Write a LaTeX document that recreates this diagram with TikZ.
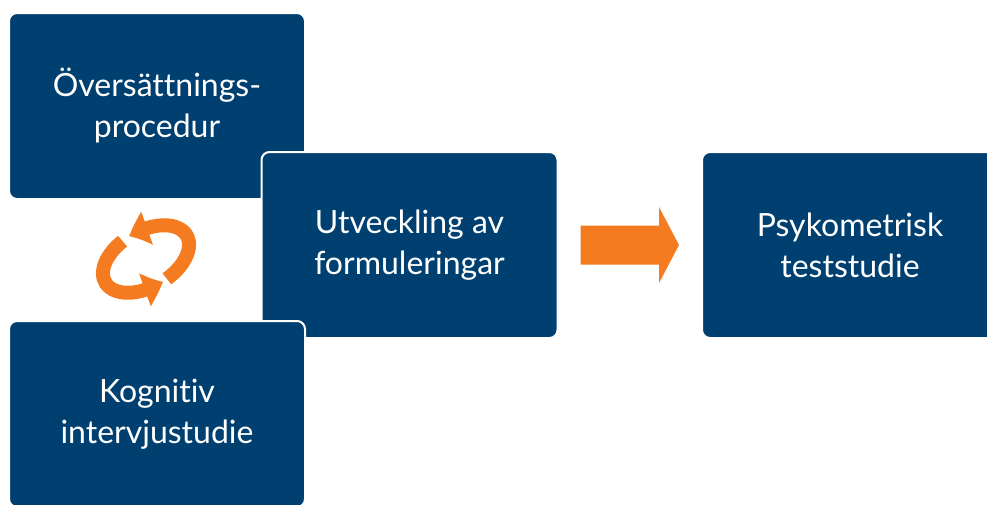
\documentclass[tikz,border=0pt]{standalone}
\usepackage{fontspec}
\setmainfont{Lato}[Ligatures=NoCommon]
\usetikzlibrary{calc,arrows.meta,bending}

\definecolor{boxblue}{RGB}{0,64,113}
\definecolor{pilorange}{RGB}{244,123,32}

\tikzset{
  stegbox/.style={rectangle, rounded corners=6pt, fill=boxblue, draw=white,
    line width=1.5pt, minimum width=222pt, minimum height=139.5pt,
    text=white, align=center, font=\fontsize{24}{30.75}\selectfont},
  cykelpil/.style={pilorange, line width=10.5pt,
    -{Triangle[bend, width=25pt, length=15pt]}}
}

\begin{document}
\begin{tikzpicture}[x=0.75pt,y=0.75pt,yscale=-1,xscale=1]

\useasboundingbox (0,0) rectangle (987,504);
\clip (0,0) rectangle (987,504);

%%%%%%%%%%%%%%%%%%%%%%%%%%%%%%%%%%%%%%%%%%%%%%%%%%%%%%%%%%%%%%%%%%%%%%%%

\node [stegbox] (overs) at (157, 106) {Översättnings-\\procedur};
\node [stegbox] (utv) at (409.5, 245) {Utveckling av\\formuleringar};
\node [stegbox] (kogn) at (157, 414) {Kognitiv\\intervjustudie};
\node [stegbox] (psyk) at (850, 245) {Psykometrisk\\teststudie};

%%%%%%%%%%%%%%%%%%%%%%%%%%%%%%%%%%%%%%%%%%%%%%%%%%%%%%%%%%%%%%%%%%%%%%%%

\fill [pilorange] ($(utv.east)+(22,-19.5)$) -- ($(psyk.west)+(-42,-19.5)$)
  -- ($(psyk.west)+(-42,-38)$) -- ($(psyk.west)+(-22,0)$)
  -- ($(psyk.west)+(-42,38)$) -- ($(psyk.west)+(-42,19.5)$)
  -- ($(utv.east)+(22,19.5)$) -- cycle;

%%%%%%%%%%%%%%%%%%%%%%%%%%%%%%%%%%%%%%%%%%%%%%%%%%%%%%%%%%%%%%%%%%%%%%%%

\coordinate (cykel) at (146, 259);
\begin{scope}[shift={(cykel)}, yscale=-1, rotate=30]
\draw [cykelpil] (-80:47 and 28) arc [start angle=-80, end angle=94, x radius=47, y radius=28];
\draw [cykelpil] (104:47 and 28) arc [start angle=104, end angle=274, x radius=47, y radius=28];
\end{scope}

%%%%%%%%%%%%%%%%%%%%%%%%%%%%%%%%%%%%%%%%%%%%%%%%%%%%%%%%%%%%%%%%%%%%%%%%

\end{tikzpicture}
\end{document}
